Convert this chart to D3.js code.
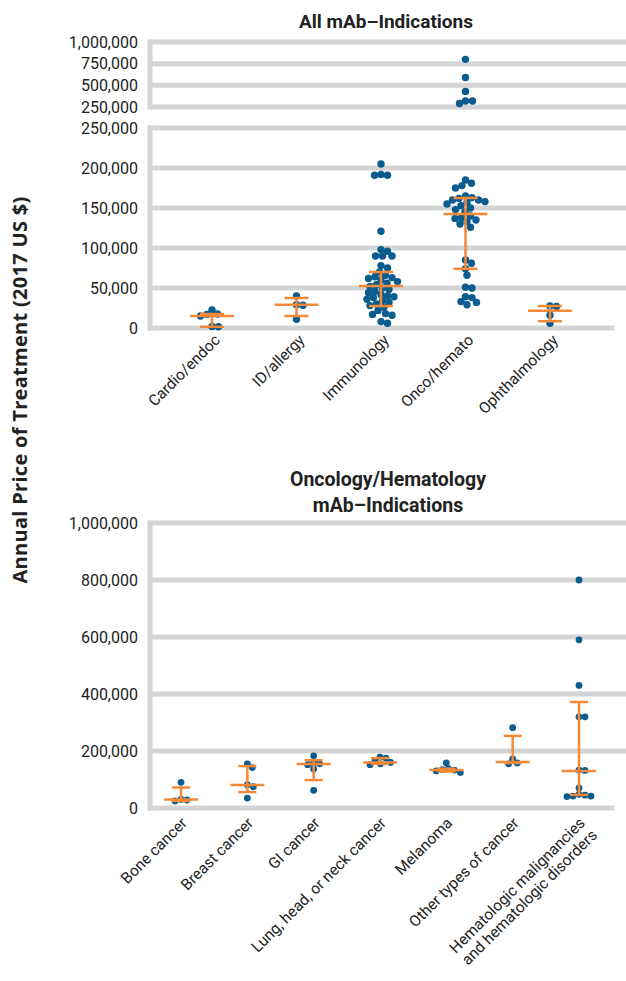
<!DOCTYPE html>
<html>
<head>
<meta charset="utf-8">
<script src="https://cdn.jsdelivr.net/npm/d3@7"></script>
<style>
  body { margin: 0; background: #fff; }
  text { font-family: Roboto, "Liberation Sans", sans-serif; fill: #222; }
</style>
</head>
<body>
<div id="chart"></div>
<script>
// ---- data: all mAb indications ----
const topCategories = ['Cardio/endoc', 'ID/allergy', 'Immunology', 'Onco/hemato', 'Ophthalmology'];
const cardioEndoc = [22500, 17500, 17000, 15000, 2000, 1500];
const idAllergy = [40000, 29000, 28500, 11000];
const immunology = [205000, 192000, 191000, 191000, 121000, 98000, 96000, 90000, 90000, 90000,
  78000, 75000, 70000, 66000, 64000, 63000, 62000, 60000, 58000, 56000, 54000, 52000, 50000,
  48000, 46000, 44000, 42000, 40000, 39000, 38000, 36000, 34000, 32000, 30000, 28000, 26000,
  22000, 18000, 17000, 16000, 8000, 6000];
const oncoHemato = [800000, 590000, 430000, 320000, 320000, 290000,
  185000, 181000, 178000, 175000, 165000, 163000, 162000, 160000, 160000, 158000, 157000,
  155000, 153000, 150000, 148000, 145000, 140000, 138000, 137000, 135000, 133000, 130000,
  126000, 85000, 81000, 74000, 66000, 51000, 50000, 39000, 38000, 33000, 32000, 29000];
const ophthalmology = [27500, 27000, 16000, 6000];
const topMedian = [15000, 29000, 52500, 142500, 21500];
const topQ1 = [1500, 15000, 27500, 74000, 8500];
const topQ3 = [17500, 37500, 70000, 162500, 27500];
const topLowTicks = [0, 50000, 100000, 150000, 200000, 250000];
const topHighTicks = [250000, 500000, 750000, 1000000];

// ---- data: oncology / hematology ----
const bottomCategories = ['Bone cancer', 'Breast cancer', 'GI cancer', 'Lung, head, or neck cancer',
  'Melanoma', 'Other types of cancer', 'Hematologic malignancies\nand hematologic disorders'];
const boneCancer = [90000, 30000, 28000, 25000];
const breastCancer = [155000, 142000, 82000, 75000, 35000];
const giCancer = [183000, 158000, 155000, 152000, 137000, 62000];
const lungHeadNeck = [178000, 175000, 165000, 160000, 155000, 152000];
const melanoma = [158000, 138000, 135000, 133000, 130000, 125000];
const otherCancer = [282000, 172000, 158000, 155000];
const hematologic = [800000, 590000, 430000, 320000, 320000, 133000, 132000, 70000, 48000,
  45000, 42000, 42000, 40000];
const bottomMedian = [30000, 81000, 154000, 160000, 133000, 161000, 130000];
const bottomQ1 = [25000, 56000, 98000, 155000, 128000, 158000, 46000];
const bottomQ3 = [72000, 147000, 168000, 175000, 138000, 253000, 372000];
const bottomTicks = [0, 200000, 400000, 600000, 800000, 1000000];

const topSeries = [cardioEndoc, idAllergy, immunology, oncoHemato, ophthalmology];
const bottomSeries = [boneCancer, breastCancer, giCancer, lungHeadNeck, melanoma, otherCancer, hematologic];

const W = 626, H = 981;
const BLUE = '#0a5b8e', ORANGE = '#f5893a', GRID = '#d3d4d6';
const fmt = d3.format(',');

const svg = d3.select('#chart').append('svg').attr('width', W).attr('height', H);

// simple beeswarm: nudge each point sideways until it no longer overlaps much
function dodge(vals, cx, yFn, r) {
  const placed = [];
  vals.slice().sort((a, b) => b - a).forEach((v) => {
    const y = yFn(v);
    let off = 0;
    for (let k = 0; k < 400; k++) {
      const o = (k % 2 ? 1 : -1) * Math.ceil(k / 2) * 0.5;
      const ok = placed.every((p) => (p.x - cx - o) ** 2 + (p.y - y) ** 2 >= (2 * r * 0.88) ** 2);
      if (ok) { off = o; break; }
    }
    placed.push({ x: cx + off, y, v });
  });
  return placed;
}

function gridPanel(g, yScale, ticks, x0, x1, bottomEnd) {
  ticks.forEach((t, i) => {
    g.append('line')
      .attr('x1', x0).attr('x2', i === 0 && bottomEnd ? bottomEnd : x1)
      .attr('y1', yScale(t)).attr('y2', yScale(t))
      .attr('stroke', GRID).attr('stroke-width', 5);
  });
  const ys = ticks.map(yScale);
  g.append('line')
    .attr('x1', x0).attr('x2', x0)
    .attr('y1', d3.min(ys) - 2.5).attr('y2', d3.max(ys) + 2.5)
    .attr('stroke', GRID).attr('stroke-width', 5);
  g.append('g')
    .attr('transform', `translate(${x0 - 4},0)`)
    .call(d3.axisLeft(yScale).tickValues(ticks).tickFormat(fmt).tickSize(0).tickPadding(8))
    .call((a) => a.select('.domain').remove())
    .selectAll('text')
    .style('font-size', '16px')
    .style('font-family', 'Roboto, sans-serif')
    .attr('fill', '#222');
}

function drawGroup(g, vals, cx, yFn, r, med, q1, q3, medW, capW) {
  const pts = dodge(vals, cx, yFn, r);
  g.selectAll(null).data(pts).enter().append('circle')
    .attr('cx', (d) => d.x).attr('cy', (d) => d.y).attr('r', r)
    .attr('fill', BLUE);
  g.append('line').attr('x1', cx).attr('x2', cx).attr('y1', yFn(q1)).attr('y2', yFn(q3))
    .attr('stroke', ORANGE).attr('stroke-width', 2.5);
  [q1, q3].forEach((q) => {
    g.append('line').attr('x1', cx - capW / 2).attr('x2', cx + capW / 2)
      .attr('y1', yFn(q)).attr('y2', yFn(q))
      .attr('stroke', ORANGE).attr('stroke-width', 2.5);
  });
  g.append('line').attr('x1', cx - medW / 2).attr('x2', cx + medW / 2)
    .attr('y1', yFn(med)).attr('y2', yFn(med))
    .attr('stroke', ORANGE).attr('stroke-width', 2.5);
}

function xLabels(g, cats, xScale, y, dx, dy) {
  cats.forEach((c) => {
    const t = g.append('text')
      .attr('transform', `translate(${xScale(c) + dx},${y + dy}) rotate(-45)`)
      .attr('text-anchor', 'end')
      .style('font-size', '15.5px');
    c.split('\n').forEach((line, i) => {
      t.append('tspan').attr('x', 0).attr('dy', i === 0 ? 0 : '1.1em').text(line);
    });
  });
}

// ---- top chart ----
const frameX = 150;
const xTop = d3.scalePoint().domain(topCategories).range([212, 550]);
const yLow = d3.scaleLinear().domain([0, 250000]).range([328, 128]);
const yHigh = d3.scaleLinear().domain([250000, 1000000]).range([107, 42]);
const yTop = (v) => (v > 250000 ? yHigh(v) : yLow(v));

const gTop = svg.append('g');
gridPanel(gTop, yHigh, topHighTicks, frameX, W);
gridPanel(gTop, yLow, topLowTicks, frameX, W, 614);

topCategories.forEach((c, i) => {
  drawGroup(gTop, topSeries[i], xTop(c), yTop, 3.7, topMedian[i], topQ1[i], topQ3[i], 44, 24);
});
xLabels(gTop, topCategories, xTop, 328, 9, 13);

svg.append('text').attr('x', 386).attr('y', 28).attr('text-anchor', 'middle')
  .style('font-size', '19px').style('font-weight', 'bold').text('All mAb–Indications');

// ---- bottom chart ----
const xBot = d3.scalePoint().domain(bottomCategories).range([181, 579]);
const yBot = d3.scaleLinear().domain([0, 1000000]).range([808, 523]);

const gBot = svg.append('g');
gridPanel(gBot, yBot, bottomTicks, frameX, W, 614);

bottomCategories.forEach((c, i) => {
  drawGroup(gBot, bottomSeries[i], xBot(c), yBot, 3.4, bottomMedian[i], bottomQ1[i], bottomQ3[i], 34, 18);
});
xLabels(gBot, bottomCategories, xBot, 808, 7, 16);

const t2 = svg.append('text').attr('text-anchor', 'middle')
  .style('font-size', '19.5px').style('font-weight', 'bold');
t2.append('tspan').attr('x', 388).attr('y', 486).text('Oncology/Hematology');
t2.append('tspan').attr('x', 388).attr('y', 512).text('mAb–Indications');

// ---- shared y title ----
svg.append('text')
  .attr('transform', 'translate(27,390) rotate(-90)')
  .attr('text-anchor', 'middle')
  .style('font-family', '"Open Sans", sans-serif')
  .style('font-size', '20px').style('font-weight', 'bold')
  .style('letter-spacing', '0.3px')
  .text('Annual Price of Treatment (2017 US $)');
</script>
</body>
</html>
